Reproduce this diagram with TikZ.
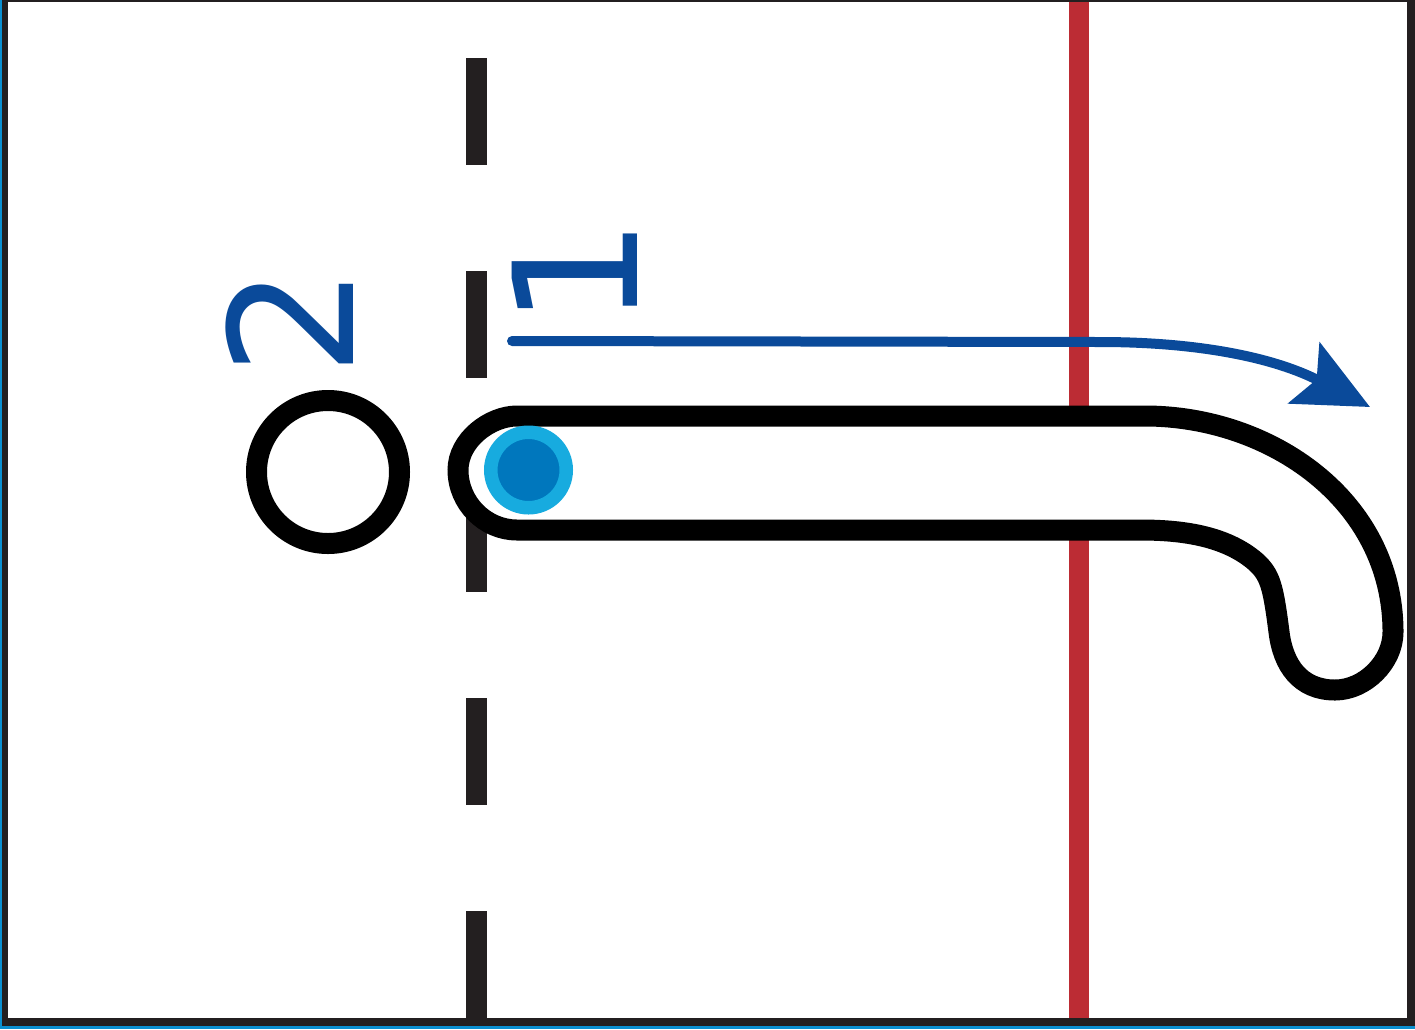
\documentclass[tikz,border=0pt]{standalone}
\usepackage{fontspec}
\setmainfont{DejaVu Sans}
\definecolor{frameink}{HTML}{231F20}
\definecolor{laneblue}{HTML}{0A4A9A}
\definecolor{goalred}{HTML}{BC2C34}
\definecolor{ballring}{HTML}{17ABDF}
\definecolor{ballcore}{HTML}{0077BD}
\definecolor{edgeblue}{HTML}{0A8FD0}
\usetikzlibrary{arrows.meta}

\begin{document}
\begin{tikzpicture}[x=1pt,y=-1pt,
    guide/.style={frameink,line width=21pt},
    outline/.style={black,line width=21pt,fill=white},
    digit/.style={laneblue,inner sep=0pt,rotate=90,font=\fontsize{172}{172}\selectfont}]
  \useasboundingbox (0,0) rectangle (1415,1029);
  \fill[white] (0,0) rectangle (1415,1029);
  % frame
  \fill[frameink] (0,0) rectangle (1415,2);
  \fill[frameink] (0,0) rectangle (8,1026);
  \fill[frameink] (1407,0) rectangle (1415,1026);
  \fill[frameink] (0,1018) rectangle (1415,1026);
  \fill[edgeblue] (0,1026) rectangle (1415,1029);
  \fill[edgeblue] (0,0) rectangle (1.5,1029);
  % centre line and goal line
  \foreach \y in {58,271,485,698,911}
    \draw[guide] (476.5,\y) -- (476.5,\y+107);
  \draw[goalred,line width=20pt] (1079,2) -- (1079,1018);
  % hook shaped path
  \draw[outline] (517,416) -- (1145,416)
    .. controls (1270,416) and (1393,500) .. (1393,632)
    .. controls (1393,662) and (1365,690) .. (1335,690)
    .. controls (1300,690) and (1283,665) .. (1279,632)
    .. controls (1273,585) and (1270,575) .. (1256,562)
    .. controls (1225,535) and (1180,530) .. (1140,530)
    -- (517,530)
    .. controls (485,530) and (458,503) .. (458,470)
    .. controls (458,440) and (490,416) .. (517,416) -- cycle;
  \node[draw=black,circle,line width=21pt,minimum size=143pt,inner sep=0pt] (cone) at (328,472) {};
  \node[draw=ballring,fill=ballcore,circle,line width=13.5pt,minimum size=75.5pt,inner sep=0pt] (ball) at (528.5,470) {};
  % run of the ball
  \coordinate (runstart) at (512,341);
  \coordinate (runtip) at (1370,407);
  \draw[laneblue,line width=10pt,line cap=round,-{Stealth[length=74pt,width=68pt,inset=14pt]}]
    (runstart) -- (1100,342) .. controls (1200,342) and (1275,358) .. (runtip);
  \node[digit] (two) at (290,322) {2};
  \node[digit] (one) at (575,273) {1};
\end{tikzpicture}
\end{document}
